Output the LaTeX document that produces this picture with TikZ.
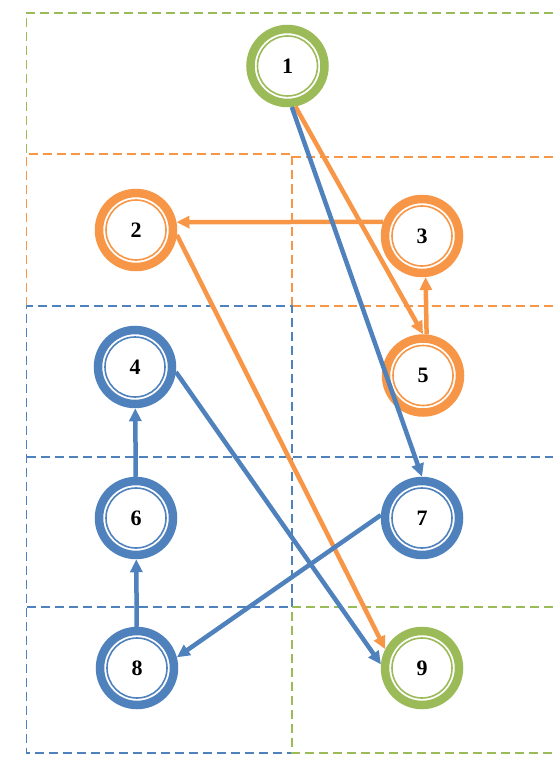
\documentclass[tikz,border=0pt]{standalone}
\usepackage{fontspec}
\setmainfont{Liberation Serif}
\usetikzlibrary{arrows.meta}
\definecolor{ogreen}{HTML}{9BBB59}
\definecolor{oorange}{HTML}{F79646}
\definecolor{oblue}{HTML}{4F81BD}
\tikzset{
  state/.style={shape=circle, draw=#1, line width=8.5pt, minimum size=74pt, inner sep=0pt,
    font=\bfseries\fontsize{22}{22}\selectfont,
    path picture={\draw[#1, line width=1.6pt] (path picture bounding box.center) circle[radius=30pt];}},
  region/.style={draw=#1, line width=1.9pt, dash pattern=on 9pt off 5pt},
  link/.style={color=#1, line width=4.5pt, -{Triangle[length=13pt,width=12pt]}},
}
\begin{document}
\begin{tikzpicture}[x=1pt, y=-1pt]
\useasboundingbox (0,0) rectangle (553,778);

\draw[region=ogreen] (553,13) -- (26.5,13) -- (26.5,154);
\draw[region=oorange] (26.5,306) -- (26.5,154) -- (292,154) -- (292,306);
\draw[region=oorange] (292,157) -- (553,157);
\draw[region=oorange] (292,306) -- (553,306);
\draw[region=oblue] (292,607) -- (292,306) -- (26.5,306) -- (26.5,753) -- (292,753);
\draw[region=oblue] (26.5,457) -- (553,457);
\draw[region=oblue] (26.5,607) -- (292,607);
\draw[region=ogreen] (553,607) -- (292,607) -- (292,753) -- (553,753);

\node[state=ogreen] (n1) at (287.5,66) {1};
\node[state=oorange] (n2) at (136,230) {2};
\node[state=oorange] (n3) at (422,236) {3};
\node[state=oblue] (n4) at (135,367) {4};
\node[state=oorange] (n5) at (423,375.5) {5};
\node[state=oblue] (n6) at (136,518) {6};
\node[state=oblue] (n7) at (422,518) {7};
\node[state=oblue] (n8) at (137,668) {8};
\node[state=ogreen] (n9) at (422,668) {9};

\path[link=oorange] (n3.160) edge (n2.11);
\path[link=oorange] (n5.85) edge (n3.-85);
\path[link=oorange] (n1.-79) edge (n5.north);
\path[link=oorange] (n2.-7) edge (n9.153);
\path[link=oblue] (n1.-84) edge (n7.north);
\path[link=oblue] (n4.-7) edge (n9.175);
\path[link=oblue] (n7.176) edge (n8.15);
\path[link=oblue] (n6) edge (n4);
\path[link=oblue] (n8) edge (n6);

\end{tikzpicture}
\end{document}
